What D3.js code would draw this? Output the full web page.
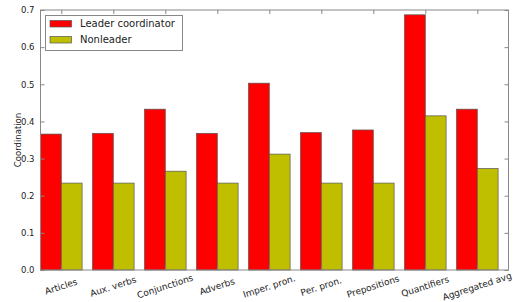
<!DOCTYPE html>
<html><head><meta charset="utf-8">
<script src="https://cdnjs.cloudflare.com/ajax/libs/d3/7.8.5/d3.min.js"></script>
<style>body{margin:0;background:#fff}svg{display:block}text{font-family:"DejaVu Sans",sans-serif}</style>
</head><body><svg id="c" width="513" height="302"></svg>
<script>
const categories = ["Articles","Aux. verbs","Conjunctions","Adverbs","Imper. pron.","Per. pron.","Prepositions","Quantifiers","Aggregated avg"];
const leader = [0.366,0.368,0.433,0.368,0.503,0.370,0.377,0.687,0.433];
const nonleader = [0.234,0.234,0.266,0.234,0.312,0.234,0.234,0.415,0.273];
const yTicks = [0.0,0.1,0.2,0.3,0.4,0.5,0.6,0.7];
const seriesNames = ["Leader coordinator","Nonleader"];
const colors = ["#ff0000","#bfbf00"];

const svg = d3.select("#c");
const L=40.5, R=508.5, T=10, B=270;
const x = d3.scaleLinear().domain([-0.4, 8.6]).range([L, R]);
const y = d3.scaleLinear().domain([0, 0.7]).range([B, T]);
const bw = 0.4;

const series = [leader, nonleader];
series.forEach((vals, s) => {
  svg.append("g").selectAll("rect").data(vals).join("rect")
    .attr("x", (d,i) => x(i - bw + s*bw))
    .attr("width", x(bw) - x(0))
    .attr("y", d => y(d))
    .attr("height", d => y(0) - y(d))
    .attr("fill", colors[s])
    .attr("stroke", "#555").attr("stroke-width", 0.7);
});

// frame
svg.append("rect").attr("x",L).attr("y",T).attr("width",R-L).attr("height",B-T)
  .attr("fill","none").attr("stroke","#888").attr("stroke-width",1);

// y axis
const ya = d3.axisLeft(y).tickValues(yTicks).tickFormat(d3.format(".1f")).tickSizeInner(-4).tickSizeOuter(0).tickPadding(6);
const gy = svg.append("g").attr("transform",`translate(${L},0)`).call(ya);
gy.select(".domain").remove();
gy.selectAll("line").attr("stroke","#888");
gy.selectAll("text").attr("font-size",8.5).attr("fill","#222");
const yr = d3.axisRight(y).tickValues(yTicks).tickFormat("").tickSizeInner(-4).tickSizeOuter(0);
const gyr = svg.append("g").attr("transform",`translate(${R},0)`).call(yr);
gyr.select(".domain").remove(); gyr.selectAll("line").attr("stroke","#888");

// x axis
const xa = d3.axisBottom(x).tickValues(d3.range(categories.length)).tickFormat(i=>"").tickSizeInner(-4).tickSizeOuter(0);
const gx = svg.append("g").attr("transform",`translate(0,${B})`).call(xa);
gx.select(".domain").remove(); gx.selectAll("line").attr("stroke","#888");
const xt = d3.axisTop(x).tickValues(d3.range(categories.length)).tickFormat("").tickSizeInner(-4).tickSizeOuter(0);
const gxt = svg.append("g").attr("transform",`translate(0,${T})`).call(xt);
gxt.select(".domain").remove(); gxt.selectAll("line").attr("stroke","#888");

svg.append("g").selectAll("text").data(categories).join("text")
  .attr("transform",(d,i)=>`translate(${x(i)},${B+17}) rotate(-18)`)
  .attr("text-anchor","middle").attr("dominant-baseline","middle")
  .attr("font-size",9).attr("fill","#222").text(d=>d);

svg.append("text").attr("transform",`translate(21,${(T+B)/2}) rotate(-90)`)
  .attr("text-anchor","middle").attr("font-size",8.5).attr("fill","#222").text("Coordination");

// legend
const lg = svg.append("g");
lg.append("rect").attr("x",45.5).attr("y",15.5).attr("width",137).attr("height",35)
  .attr("fill","#fff").attr("stroke","#888").attr("stroke-width",1);
seriesNames.forEach((n,i)=>{
  lg.append("rect").attr("x",50).attr("y",20.5+i*16).attr("width",21.5).attr("height",6.5)
    .attr("fill",colors[i]).attr("stroke","#555").attr("stroke-width",0.7);
  lg.append("text").attr("x",80).attr("y",24+i*16).attr("dominant-baseline","middle")
    .attr("font-size",10).attr("fill","#222").text(n);
});
</script></body></html>
